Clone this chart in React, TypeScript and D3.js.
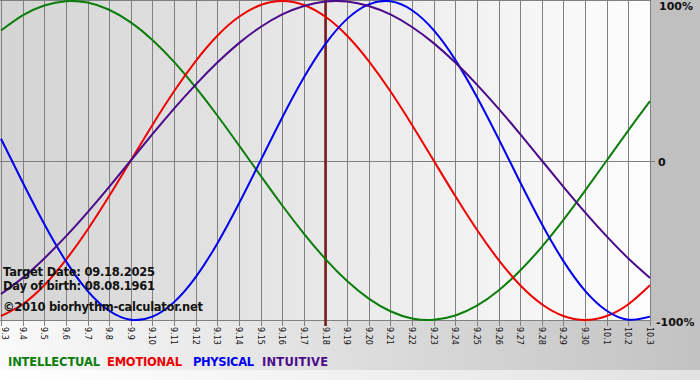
import React from 'react';
import * as d3 from 'd3';

const DAYS = ['9.3','9.4','9.5','9.6','9.7','9.8','9.9','9.10','9.11','9.12','9.13','9.14','9.15','9.16','9.17','9.18','9.19','9.20','9.21','9.22','9.23','9.24','9.25','9.26','9.27','9.28','9.29','9.30','10.1','10.2','10.3'];

const INTELLECTUAL = [0.815,0.910,0.972,0.999,0.990,0.945,0.866,0.756,0.618,0.458,0.282,0.095,-0.095,-0.282,-0.458,-0.618,-0.756,-0.866,-0.945,-0.990,-0.999,-0.972,-0.910,-0.815,-0.690,-0.541,-0.372,-0.189,0,0.189,0.372];
const EMOTIONAL = [-0.975,-0.901,-0.782,-0.623,-0.434,-0.223,0,0.223,0.434,0.623,0.782,0.901,0.975,1,0.975,0.901,0.782,0.623,0.434,0.223,0,-0.223,-0.434,-0.623,-0.782,-0.901,-0.975,-1,-0.975,-0.901,-0.782];
const PHYSICAL = [0.136,-0.136,-0.398,-0.631,-0.817,-0.942,-0.998,-0.979,-0.888,-0.731,-0.520,-0.270,0,0.270,0.520,0.731,0.888,0.979,0.998,0.942,0.817,0.631,0.398,0.136,-0.136,-0.398,-0.631,-0.817,-0.942,-0.998,-0.979];
const INTUITIVE = [-0.837,-0.736,-0.614,-0.476,-0.325,-0.165,0,0.165,0.325,0.476,0.614,0.736,0.837,0.916,0.969,0.997,0.997,0.969,0.916,0.837,0.736,0.614,0.476,0.325,0.165,0,-0.165,-0.325,-0.476,-0.614,-0.736];

const TARGET_INDEX = 15;
const Y_LABELS = [{ v: 1, t: '100%' }, { v: 0, t: '0' }, { v: -1, t: '-100%' }];

const SERIES = [
  { name: 'INTELLECTUAL', values: INTELLECTUAL, color: '#0a7d0a', lx: 8, lw: 92 },
  { name: 'EMOTIONAL', values: EMOTIONAL, color: '#ee0000', lx: 107, lw: 75 },
  { name: 'PHYSICAL', values: PHYSICAL, color: '#0000ee', lx: 193, lw: 61 },
  { name: 'INTUITIVE', values: INTUITIVE, color: '#4b0a8a', lx: 262, lw: 66 },
];

export default function App() {
  const W = 700, H = 380;
  const plotR = 650;
  const plotB = 321;
  const x = d3.scaleLinear().domain([0, DAYS.length - 1]).range([1, plotR]);
  const y = d3.scaleLinear().domain([-1, 1]).range([320, 1]);
  const line = d3.line<number>().x((_, i) => x(i)).y(d => y(d)).curve(d3.curveNatural);
  const font = "'DejaVu Sans', Verdana, sans-serif";
  const labelY = [10, 166, 326];
  const labelX = [659, 658, 656];

  return (
    <div style={{ position: 'fixed', left: 0, top: 0 }}>
      <svg width={W} height={H} style={{ display: 'block' }}>
        <defs>
          <linearGradient id="plotbg" x1="0" x2="1" y1="0" y2="0">
            <stop offset="0" stopColor="#d4d4d4" />
            <stop offset="1" stopColor="#fdfdfd" />
          </linearGradient>
          <linearGradient id="botbg" x1="0" x2="1" y1="0" y2="0">
            <stop offset="0" stopColor="#fafafa" />
            <stop offset="1" stopColor="#c2c2c2" />
          </linearGradient>
          <linearGradient id="botbg2" x1="0" x2="1" y1="0" y2="0">
            <stop offset="0" stopColor="#ffffff" />
            <stop offset="1" stopColor="#e2e2e2" />
          </linearGradient>
          <clipPath id="plotclip">
            <rect x={0} y={0} width={plotR + 1} height={plotB} />
          </clipPath>
        </defs>
        <rect x={0} y={0} width={W} height={H} fill="#ffffff" />
        <rect x={0} y={0} width={plotR} height={plotB} fill="url(#plotbg)" />
        <rect x={plotR} y={0} width={W - plotR} height={plotB} fill="#c0c0c0" />
        <rect x={0} y={plotB} width={W} height={370 - plotB} fill="url(#botbg)" />
        <rect x={0} y={370} width={W} height={H - 370} fill="url(#botbg2)" />

        {DAYS.map((d, i) => (
          <line key={'g' + d} x1={Math.round(x(i)) + 0.5} x2={Math.round(x(i)) + 0.5} y1={0} y2={326} stroke="#808080" strokeWidth={1} />
        ))}
        <line x1={0} x2={plotR} y1={0.5} y2={0.5} stroke="#808080" />
        <line x1={0} x2={655} y1={Math.round(y(0)) + 0.5} y2={Math.round(y(0)) + 0.5} stroke="#808080" />
        <line x1={0} x2={plotR} y1={plotB - 0.5} y2={plotB - 0.5} stroke="#808080" />

        <line x1={x(TARGET_INDEX)} x2={x(TARGET_INDEX)} y1={0} y2={326} stroke="#7a1c1c" strokeWidth={2.5} />

        <g clipPath="url(#plotclip)">
          {SERIES.map(s => (
            <path key={s.name} d={line(s.values) || ''} fill="none" stroke={s.color} strokeWidth={2} />
          ))}
        </g>

        <g fontFamily={font} fontWeight="bold" fontSize={11.5} fill="#111">
          <text x={3} y={276} textLength={152} lengthAdjust="spacing">Target Date: 09.18.2025</text>
          <text x={3} y={290} textLength={152} lengthAdjust="spacing">Day of birth: 08.08.1961</text>
          <text x={3} y={311} textLength={200} lengthAdjust="spacing">©2010 biorhythm-calculator.net</text>
        </g>

        {Y_LABELS.map((l, i) => (
          <text key={l.t} x={labelX[i]} y={labelY[i]} fontFamily={font} fontWeight="bold" fontSize={11} fill="#111">{l.t}</text>
        ))}

        {DAYS.map((d, i) => (
          <text key={'t' + d} transform={`translate(${Math.max(2, Math.round(x(i)) - 3)},327) rotate(90)`} fontFamily={font} fontSize={8} fill="#111">{d}</text>
        ))}

        {SERIES.map(s => (
          <text key={'l' + s.name} x={s.lx} y={366} fontFamily={font} fontWeight="bold" fontSize={11.5} fill={s.color} textLength={s.lw} lengthAdjust="spacing">{s.name}</text>
        ))}
      </svg>
    </div>
  );
}
